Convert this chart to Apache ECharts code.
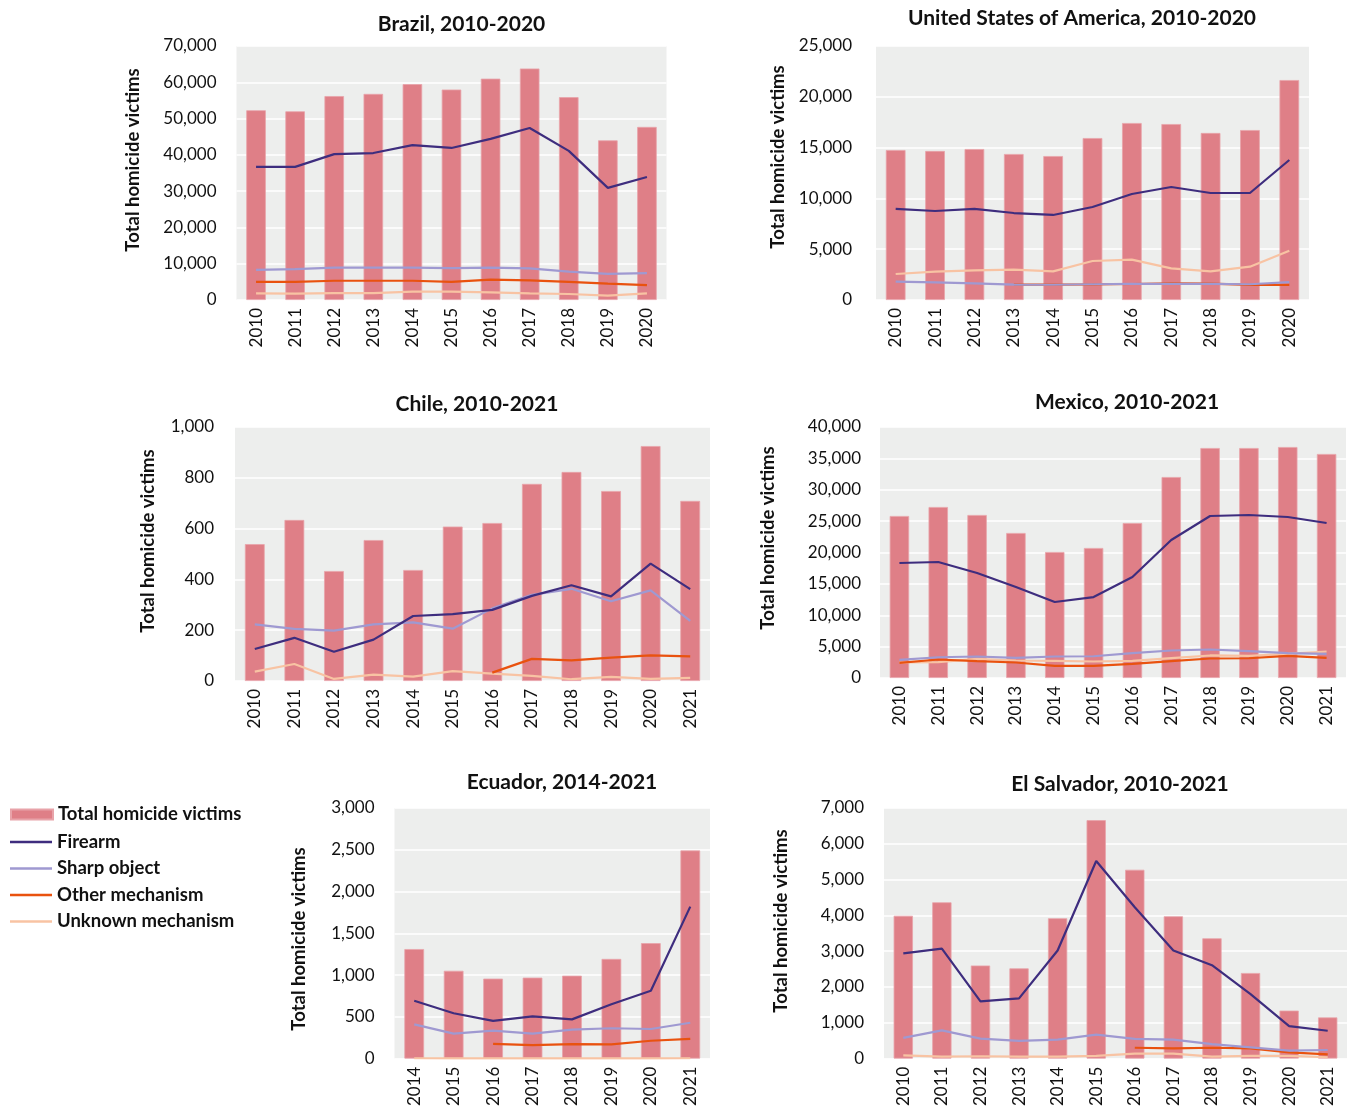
<!DOCTYPE html>
<html><head><meta charset="utf-8">
<script src="https://cdn.jsdelivr.net/npm/echarts@6/dist/echarts.min.js"></script>
<style>html,body{margin:0;padding:0;background:#fff}#c{width:1348px;height:1109px}</style>
</head><body><div id="c"></div>
<script>
const seriesNames = ['Total homicide victims', 'Firearm', 'Sharp object', 'Other mechanism', 'Unknown mechanism'];

const years2010to2020 = ['2010','2011','2012','2013','2014','2015','2016','2017','2018','2019','2020'];
const years2010to2021 = ['2010','2011','2012','2013','2014','2015','2016','2017','2018','2019','2020','2021'];
const years2014to2021 = ['2014','2015','2016','2017','2018','2019','2020','2021'];

const brazilTotal   = [52300, 52000, 56200, 56800, 59500, 58000, 61000, 63800, 55900, 44000, 47700];
const brazilFirearm = [36700, 36700, 40200, 40500, 42700, 41900, 44400, 47400, 41100, 30900, 33900];
const brazilSharp   = [8300, 8500, 8900, 8900, 8900, 8800, 8900, 8700, 7800, 7200, 7400];
const brazilOther   = [5000, 5000, 5300, 5300, 5300, 5000, 5600, 5400, 5000, 4500, 4100];
const brazilUnknown = [1800, 1750, 1900, 1900, 2300, 2300, 2100, 1800, 1650, 1200, 1800];

const usaTotal   = [14760, 14670, 14860, 14370, 14170, 15940, 17420, 17320, 16440, 16730, 21650];
const usaFirearm = [8960, 8760, 8960, 8560, 8370, 9150, 10430, 11120, 10530, 10530, 13780];
const usaSharp   = [1800, 1740, 1640, 1510, 1500, 1550, 1580, 1600, 1580, 1550, 1750];
const usaOther   = [null, null, null, 1510, 1510, 1530, 1575, 1640, 1610, 1480, 1480];
const usaUnknown = [2560, 2790, 2920, 2980, 2820, 3840, 3970, 3120, 2820, 3280, 4850];

const chileTotal   = [539, 634, 433, 555, 437, 608, 622, 776, 823, 748, 925, 709];
const chileFirearm = [126, 170, 115, 163, 256, 263, 280, 335, 377, 333, 462, 362];
const chileSharp   = [223, 205, 198, 223, 231, 206, 286, 339, 363, 314, 357, 237];
const chileOther   = [null, null, null, null, null, null, 33, 87, 81, 92, 101, 97];
const chileUnknown = [37, 67, 8, 25, 17, 39, 29, 20, 7, 16, 8, 12];

const mexicoTotal   = [25820, 27250, 25980, 23110, 20080, 20720, 24700, 32030, 36650, 36650, 36810, 35700];
const mexicoFirearm = [18330, 18490, 16730, 14500, 12110, 12900, 16100, 22000, 25820, 25980, 25660, 24700];
const mexicoSharp   = [2900, 3310, 3430, 3220, 3430, 3470, 3950, 4380, 4540, 4270, 3950, 3850];
const mexicoOther   = [2420, 2950, 2680, 2470, 1940, 1940, 2260, 2680, 3110, 3150, 3540, 3220];
const mexicoUnknown = [2470, 2520, 3060, 2790, 2740, 2630, 2740, 3160, 3590, 3540, 3850, 4220];

const ecuadorTotal   = [1311, 1051, 957, 969, 992, 1193, 1382, 2492];
const ecuadorFirearm = [693, 543, 452, 504, 469, 650, 811, 1819];
const ecuadorSharp   = [410, 299, 334, 299, 346, 363, 354, 429];
const ecuadorOther   = [null, null, 177, 162, 173, 170, 213, 236];
const ecuadorUnknown = [4, 3, 3, 2, 3, 3, 2, 4];

const salvadorTotal   = [3990, 4365, 2600, 2520, 3920, 6660, 5275, 3975, 3360, 2390, 1340, 1150];
const salvadorFirearm = [2937, 3070, 1600, 1683, 3020, 5518, 4227, 3020, 2608, 1800, 906, 777];
const salvadorSharp   = [576, 788, 557, 494, 530, 667, 549, 530, 403, 310, 220, 239];
const salvadorOther   = [null, null, null, null, null, null, 302, 283, 302, 283, 173, 118];
const salvadorUnknown = [91, 55, 64, 55, 55, 73, 137, 137, 55, 73, 73, 36];

const axisMax      = [70000, 25000, 1000, 40000, 3000, 7000];
const axisInterval = [10000, 5000, 200, 5000, 500, 1000];
const chartTitles  = ['Brazil, 2010-2020', 'United States of America, 2010-2020', 'Chile, 2010-2021', 'Mexico, 2010-2021', 'Ecuador, 2014-2021', 'El Salvador, 2010-2021'];
const yAxisTitle   = 'Total homicide victims';

const chartData = [
  {years: years2010to2020, values: [brazilTotal, brazilFirearm, brazilSharp, brazilOther, brazilUnknown]},
  {years: years2010to2020, values: [usaTotal, usaFirearm, usaSharp, usaOther, usaUnknown]},
  {years: years2010to2021, values: [chileTotal, chileFirearm, chileSharp, chileOther, chileUnknown]},
  {years: years2010to2021, values: [mexicoTotal, mexicoFirearm, mexicoSharp, mexicoOther, mexicoUnknown]},
  {years: years2014to2021, values: [ecuadorTotal, ecuadorFirearm, ecuadorSharp, ecuadorOther, ecuadorUnknown]},
  {years: years2010to2021, values: [salvadorTotal, salvadorFirearm, salvadorSharp, salvadorOther, salvadorUnknown]}
];

// layout (pixels)
const layout = [
  {grid: {left: 236.5, top: 46, width: 430, height: 254}, title: [461.5, 24], name: [133, 160], margin: 20},
  {grid: {left: 876, top: 46, width: 433, height: 254}, title: [1082, 18], name: [778, 157], margin: 24},
  {grid: {left: 235, top: 427, width: 475, height: 254}, title: [477, 404], name: [148, 541], margin: 21},
  {grid: {left: 880, top: 427, width: 466, height: 251}, title: [1127, 402], name: [768, 538], margin: 19},
  {grid: {left: 394.5, top: 808, width: 315.5, height: 254}, title: [562, 782], name: [299, 939], margin: 20},
  {grid: {left: 884, top: 808, width: 463, height: 255}, title: [1120, 784], name: [781, 921], margin: 20}
];

const colors = ['#DF7F87', '#3E2D7E', '#9F99D1', '#E9520F', '#F8C3A3'];
const FONT = 'Lato, "Open Sans", sans-serif';

const grids = [], xAxes = [], yAxes = [], series = [], graphics = [];
chartData.forEach((c, i) => {
  const L = layout[i];
  grids.push(Object.assign({show: true, backgroundColor: '#EDEEED', borderWidth: 0}, L.grid));
  xAxes.push({
    type: 'category', gridIndex: i, data: c.years,
    axisLine: {show: false}, axisTick: {show: false},
    axisLabel: {rotate: 90, margin: 8, fontSize: 17, color: '#111', interval: 0, fontFamily: FONT}
  });
  yAxes.push({
    type: 'value', gridIndex: i, min: 0, max: axisMax[i], interval: axisInterval[i],
    axisLine: {show: false}, axisTick: {show: false},
    splitLine: {lineStyle: {color: '#FFFFFF', width: 1.5}},
    axisLabel: {fontSize: 17, margin: L.margin, color: '#111', fontFamily: FONT,
      formatter: v => v.toLocaleString('en-US')}
  });
  series.push({
    name: seriesNames[0], type: 'bar', xAxisIndex: i, yAxisIndex: i,
    data: c.values[0], barWidth: '50%',
    itemStyle: {color: colors[0], borderColor: '#E8A3A9', borderWidth: 0.8},
    z: 1
  });
  for (let k = 1; k < 5; k++) {
    series.push({
      name: seriesNames[k], type: 'line', xAxisIndex: i, yAxisIndex: i,
      data: c.values[k], symbol: 'none', connectNulls: false,
      lineStyle: {color: colors[k], width: 2.2}, itemStyle: {color: colors[k]},
      z: 3 + (5 - k)
    });
  }
  graphics.push({
    type: 'text', x: L.title[0], y: L.title[1],
    style: {text: chartTitles[i], font: 'bold 21px ' + FONT, fill: '#111', align: 'center', verticalAlign: 'middle'}
  });
  graphics.push({
    type: 'text', x: L.name[0], y: L.name[1], rotation: Math.PI / 2,
    style: {text: yAxisTitle, font: 'bold 18.5px ' + FONT, fill: '#111', align: 'center', verticalAlign: 'middle'}
  });
});

const legendText = {fontSize: 18.5, fontWeight: 'bold', color: '#111', fontFamily: FONT};
const option = {
  animation: false,
  textStyle: {fontFamily: FONT},
  legend: [
    {
      orient: 'vertical', left: 5, top: 800,
      itemWidth: 42, itemHeight: 10, itemGap: 7.5,
      textStyle: legendText,
      data: [{name: seriesNames[0], icon: 'rect'}]
    },
    {
      orient: 'vertical', left: 5, top: 827.5,
      itemWidth: 42, itemHeight: 2.5, itemGap: 7.5,
      textStyle: legendText,
      data: [
        {name: seriesNames[1], icon: 'rect'},
        {name: seriesNames[2], icon: 'rect'},
        {name: seriesNames[3], icon: 'rect'},
        {name: seriesNames[4], icon: 'rect'}
      ]
    }
  ],
  grid: grids, xAxis: xAxes, yAxis: yAxes, series: series, graphic: graphics
};

const chart = echarts.init(document.getElementById('c'), null, {renderer: 'canvas'});
chart.setOption(option);
</script></body></html>
